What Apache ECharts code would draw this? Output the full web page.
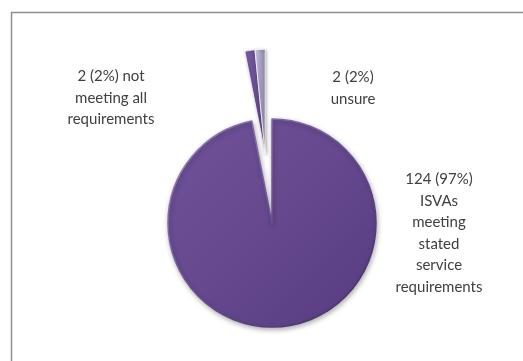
<!DOCTYPE html>
<html>
<head>
<meta charset="utf-8">
<script src="https://cdn.jsdelivr.net/npm/echarts@6/dist/echarts.min.js"></script>
<style>
  html, body { margin: 0; padding: 0; background: #ffffff; }
  #chart { width: 523px; height: 361px; }
</style>
</head>
<body>
<div id="chart"></div>
<script>
// ISVA survey responses
const categories = [
  'ISVAs meeting stated service requirements',
  'not meeting all requirements',
  'unsure'
];
const counts = [124, 2, 2];
const labelTexts = [
  'ISVAs\nmeeting\nstated\nservice\nrequirements',
  'not\nmeeting all\nrequirements',
  '\nunsure'
];

const total = counts.reduce((a, b) => a + b, 0);
const pct = v => Math.round(v / total * 100);
function labelFor(i) {
  const v = counts[i];
  if (i === 1) return v + ' (' + pct(v) + '%) ' + labelTexts[i];
  if (i === 2) return v + ' (' + pct(v) + '%)' + labelTexts[i];
  return v + ' (' + pct(v) + '%)\n' + labelTexts[i];
}

// Layout
const pieCenter = [272, 223];
const pieRadius = 104;
const explode = 70;
// the two small slices are pulled out together along their shared bisector
const smallSweep = (counts[1] + counts[2]) / total * 360;
const bisect = (360 - smallSweep / 2) * Math.PI / 180;
const explodedCenter = [
  pieCenter[0] + Math.sin(bisect) * explode,
  pieCenter[1] - Math.cos(bisect) * explode
];
const labelSpots = [[439, 233], [111, 98], [353, 88]];

const mainFill = {
  type: 'linear', x: 0, y: 0, x2: 1, y2: 1,
  colorStops: [
    { offset: 0, color: '#6f5299' },
    { offset: 0.5, color: '#65488e' },
    { offset: 1, color: '#573c80' }
  ]
};
const rim = {
  type: 'linear', x: 0, y: 0, x2: 1, y2: 1,
  colorStops: [
    { offset: 0, color: '#9884bb' },
    { offset: 0.5, color: '#6a4f93' },
    { offset: 1, color: '#3f2a60' }
  ]
};
const smallFills = [
  null,
  { type: 'linear', x: 0, y: 0, x2: 1, y2: 0,
    colorStops: [{ offset: 0, color: '#7a5fa6' }, { offset: 1, color: '#5a3f85' }] },
  { type: 'linear', x: 0, y: 0, x2: 1, y2: 0,
    colorStops: [{ offset: 0, color: '#ddd8ea' }, { offset: 0.5, color: '#a9a1c2' }, { offset: 1, color: '#8e85a9' }] }
];

const labelStyle = {
  color: '#404040',
  fontFamily: 'Lato, "Open Sans", sans-serif',
  fontSize: 15,
  lineHeight: 21.5,
  align: 'center'
};

const mainData = categories.map((name, i) => ({
  name: name,
  value: counts[i],
  itemStyle: i === 0
    ? { color: mainFill, borderColor: rim, borderWidth: 1.5,
        shadowBlur: 5, shadowColor: 'rgba(0,0,0,0.3)', shadowOffsetX: 1, shadowOffsetY: 2 }
    : { color: 'rgba(0,0,0,0)', borderWidth: 0 },
  label: { show: i === 0, formatter: () => labelFor(i) }
}));

const smallData = categories.map((name, i) => ({
  name: name,
  value: counts[i],
  itemStyle: i === 0
    ? { color: 'rgba(0,0,0,0)', borderWidth: 0 }
    : { color: smallFills[i], borderColor: 'rgba(255,255,255,0.9)', borderWidth: 0.8,
        shadowBlur: 3, shadowColor: 'rgba(0,0,0,0.3)', shadowOffsetX: 1, shadowOffsetY: 1 },
  label: { show: i !== 0, formatter: () => labelFor(i) }
}));

const chart = echarts.init(document.getElementById('chart'), null, { renderer: 'canvas' });
chart.setOption({
  backgroundColor: '#ffffff',
  animation: false,
  graphic: [{
    type: 'rect',
    shape: { x: 11.5, y: 12.5, width: 600, height: 400 },
    style: { fill: 'none', stroke: '#8e8e8e', lineWidth: 1.5 },
    z: -1
  }],
  series: [
    {
      type: 'pie',
      center: pieCenter,
      radius: [0, pieRadius],
      startAngle: 90,
      clockwise: true,
      avoidLabelOverlap: false,
      label: Object.assign({ position: 'outside' }, labelStyle),
      labelLine: { show: false },
      labelLayout: p => ({ x: labelSpots[p.dataIndex][0], y: labelSpots[p.dataIndex][1], align: 'center', verticalAlign: 'middle' }),
      emphasis: { disabled: true },
      data: mainData
    },
    {
      type: 'pie',
      center: explodedCenter,
      radius: [0, pieRadius],
      startAngle: 90,
      clockwise: true,
      avoidLabelOverlap: false,
      label: Object.assign({ position: 'outside' }, labelStyle),
      labelLine: { show: false },
      labelLayout: p => ({ x: labelSpots[p.dataIndex][0], y: labelSpots[p.dataIndex][1], align: 'center', verticalAlign: 'middle' }),
      emphasis: { disabled: true },
      data: smallData
    }
  ]
});
</script>
</body>
</html>
